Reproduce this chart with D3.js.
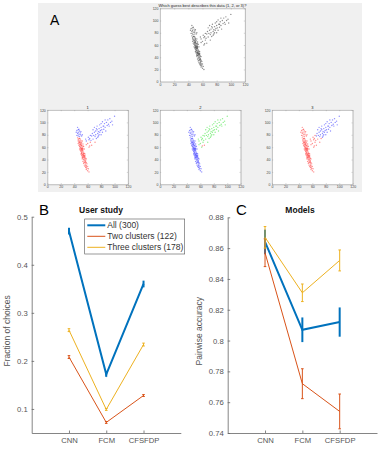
<!DOCTYPE html>
<html>
<head>
<meta charset="utf-8">
<script src="https://cdn.jsdelivr.net/npm/d3@7"></script>
<style>
    body { margin: 0; background: #fff; }
    text { font-family: "Liberation Sans", Arial, sans-serif; }
</style>
</head>
<body>
<div id="chart"></div>
<script>
// ---- Panel A: scatter data (same points, three guesses) ----
// each group: [x, y] points
const denseTop = [[45,92],[47,89],[44,87],[48,86],[46,84],[50,85],[45,82],[47,81],[49,80],[44,79],[46,78],[48,77],[51,78],[43,84],[49,83],[46,88],[52,80]];
const denseLow = [[45,75],[47,74],[49,73],[46,72],[50,71],[48,70],[52,70],[47,68],[49,67],[51,67],[46,66],[48,65],[50,64],[53,65],[47,63],[49,62],[51,62],[48,61],[50,60],[52,60],[54,61],[49,59],[51,58],[53,58],[48,57],[50,56],[52,56],[55,57],[49,55],[51,54],[53,54],[50,53],[52,52],[54,52],[51,51],[53,50],[55,50],[50,49],[52,48],[54,48],[56,49],[51,47],[53,46],[55,46],[52,45],[54,44],[56,44],[53,43],[55,42],[57,42],[52,41],[54,40],[56,40],[58,41],[55,38],[57,38],[53,37],[56,36],[58,35],[54,34],[57,33],[59,33],[55,31],[58,30],[56,29],[60,29],[57,27],[59,26],[58,24],[61,25],[60,22],[62,20],
    [50,66],[51,63],[50,58],[52,54],[51,50],[53,48],[55,44],[54,46],[52,58],[49,64],[48,68],[50,69],[53,56],[54,50],[56,46],[57,36],[55,35],[58,28],[46,70],[48,74],[53,62],[51,56],[52,43],[57,31]];
const sparseJunction = [[60,66],[64,68],[71,68],[62,60],[58,64]];
const oddPoints = [[63,62],[66,63]];
const sparseMid = [[58,70],[62,72],[61,76],[63,74],[65,71],[68,73],[73,74],[57,73],[64,79]];
const sparseUpper = [[66,78],[67,82],[69,79],[70,84],[71,77],[72,86],[72,80],[74,88],[75,82],[76,85],[76,78],[77,90],[78,84],[79,87],[80,80],[80,92],[81,88],[82,84],[83,94],[84,89],[85,98],[86,92],[87,86],[88,100],[89,95],[90,104],[91,97],[93,106],[94,100],[96,102],[100,110],[97,96],[70,92],[68,88],[74,94],[78,96],[82,101],[86,104],[73,90],[77,80],[84,94],[80,98],[75,76],[92,94]];

// cluster label of each group under guess 1, 2, 3
const pointGroups = [
    { pts: denseTop, guess: ["b", "b", "r"] },
    { pts: denseLow, guess: ["r", "b", "r"] },
    { pts: sparseJunction, guess: ["r", "g", "r"] },
    { pts: oddPoints, guess: ["r", "r", "r"] },
    { pts: sparseMid, guess: ["b", "g", "r"] },
    { pts: sparseUpper, guess: ["b", "g", "b"] }
];
const scatterTicks = [0, 20, 40, 60, 80, 100, 120];

// ---- Panels B and C ----
const methods = ["CNN", "FCM", "CFSFDP"];
const seriesNames = ["All (300)", "Two clusters (122)", "Three clusters (178)"];

const userAll = [0.470, 0.172, 0.360];
const userAllErr = [0.007, 0.005, 0.007];
const userTwo = [0.208, 0.072, 0.128];
const userTwoErr = [0.003, 0.002, 0.002];
const userThree = [0.264, 0.099, 0.234];
const userThreeErr = [0.003, 0.002, 0.003];

const modelAll = [0.864, 0.807, 0.812];
const modelAllErr = [0.008, 0.008, 0.0095];
const modelTwo = [0.857, 0.772, 0.754];
const modelTwoErr = [0.009, 0.0097, 0.0113];
const modelThree = [0.867, 0.831, 0.852];
const modelThreeErr = [0.007, 0.0057, 0.0068];

const userTicks = [0.1, 0.2, 0.3, 0.4, 0.5];
const modelTicks = [0.74, 0.76, 0.78, 0.8, 0.82, 0.84, 0.86, 0.88];

const seriesColors = ["#0072BD", "#D95319", "#EDB120"];
const seriesWidths = [2, 1, 1];
const capWidths = [0, 1.3, 1.3];
const clusterColors = { r: "#ff0000", b: "#0000ff", g: "#00dd00", k: "#000000" };

const svg = d3.select("#chart").append("svg")
    .attr("width", 381)
    .attr("height", 449);

// Panel A gray figure background
svg.append("rect")
    .attr("x", 38).attr("y", 3)
    .attr("width", 324).attr("height", 189)
    .attr("fill", "#f0f0f0");

svg.append("text")
    .attr("x", 50).attr("y", 25)
    .attr("font-size", 14)
    .text("A");

function drawScatter(box, title, guessIdx) {
    let g = svg.append("g");

    let x = d3.scaleLinear().domain([0, 120]).range([box.x0, box.x1]);
    let y = d3.scaleLinear().domain([0, 120]).range([box.y1, box.y0]);

    g.append("rect")
        .attr("x", box.x0).attr("y", box.y0)
        .attr("width", box.x1 - box.x0).attr("height", box.y1 - box.y0)
        .attr("fill", "#fff")
        .attr("stroke", "#d0d0d0")
        .attr("stroke-width", 0.4);

    pointGroups.forEach(grp => {
        let c = guessIdx < 0 ? clusterColors.k : clusterColors[grp.guess[guessIdx]];
        g.selectAll(null)
            .data(grp.pts)
            .enter()
            .append("circle")
            .attr("cx", d => x(d[0]))
            .attr("cy", d => y(d[1]))
            .attr("r", 0.7)
            .attr("fill", c)
            .attr("fill-opacity", 0.45);
    });

    // axes, ticks inside
    let xAxis = d3.axisBottom(x).tickValues(scatterTicks).tickSizeInner(-1.2).tickSizeOuter(0).tickPadding(1.5);
    let yAxis = d3.axisLeft(y).tickValues(scatterTicks).tickSizeInner(-1.2).tickSizeOuter(0).tickPadding(1.5);

    g.append("g").attr("transform", `translate(0,${box.y1})`).call(xAxis);
    g.append("g").attr("transform", `translate(${box.x0},0)`).call(yAxis);
    g.append("g").attr("transform", `translate(${box.x1},0)`)
        .call(d3.axisRight(y).tickValues(scatterTicks).tickSizeInner(-1.2).tickSizeOuter(0).tickFormat(""));
    g.append("g").attr("transform", `translate(0,${box.y0})`)
        .call(d3.axisTop(x).tickValues(scatterTicks).tickSizeInner(-1.2).tickSizeOuter(0).tickFormat(""));

    g.selectAll(".domain").attr("stroke", "#999").attr("stroke-width", 0.5);
    g.selectAll(".tick line").attr("stroke", "#999").attr("stroke-width", 0.4);
    g.selectAll(".tick text").attr("font-size", 3.5).attr("fill", "#444");

    g.append("text")
        .attr("x", (box.x0 + box.x1) / 2)
        .attr("y", box.y0 - 1.5)
        .attr("text-anchor", "middle")
        .attr("font-size", 4)
        .attr("fill", "#222")
        .text(title);
}

drawScatter({ x0: 160, x1: 245, y0: 8.3, y1: 81.7 }, "Which guess best describes this data (1, 2, or 3)?", -1);
drawScatter({ x0: 47.3, x1: 128, y0: 110, y1: 184.3 }, "1", 0);
drawScatter({ x0: 160, x1: 240.7, y0: 110, y1: 184.3 }, "2", 1);
drawScatter({ x0: 272, x1: 352.7, y0: 110, y1: 184.3 }, "3", 2);

function drawLinePanel(cfg) {
    let g = svg.append("g");

    let x = d3.scalePoint().domain(methods).range([cfg.x0, cfg.x1]).padding(1);
    let y = d3.scaleLinear().domain(cfg.yDomain).range([cfg.y1, cfg.y0]);

    let fmt = d => String(+d.toFixed(2));

    g.append("g")
        .attr("transform", `translate(${cfg.x0},0)`)
        .call(d3.axisLeft(y).tickValues(cfg.ticks).tickFormat(fmt).tickSizeInner(-2.5).tickSizeOuter(0).tickPadding(4));
    g.append("g")
        .attr("transform", `translate(0,${cfg.y1})`)
        .call(d3.axisBottom(x).tickSizeInner(-2.5).tickSizeOuter(0).tickPadding(5));

    g.selectAll(".domain").attr("stroke", "#666").attr("stroke-width", 0.8);
    g.selectAll(".tick line").attr("stroke", "#666").attr("stroke-width", 0.8);
    g.selectAll(".tick text").attr("font-size", 7.7).attr("fill", "#555");

    // y label
    g.append("text")
        .attr("transform", `translate(${cfg.labelX},${(cfg.y0 + cfg.y1) / 2 + 6}) rotate(-90)`)
        .attr("text-anchor", "middle")
        .attr("font-size", 8.5)
        .attr("fill", "#555")
        .text(cfg.ylabel);

    // title
    g.append("text")
        .attr("x", cfg.titleX)
        .attr("y", 212.5)
        .attr("text-anchor", "middle")
        .attr("font-size", 8.5)
        .attr("font-weight", "bold")
        .attr("fill", "#111")
        .text(cfg.title);

    // panel letter
    g.append("text")
        .attr("x", cfg.letterX)
        .attr("y", 215)
        .attr("font-size", 15)
        .text(cfg.letter);

    let line = d3.line()
        .x((d, i) => x(methods[i]))
        .y(d => y(d));

    cfg.series.forEach((s, k) => {
        g.append("path")
            .datum(s.values)
            .attr("d", line)
            .attr("fill", "none")
            .attr("stroke", seriesColors[k])
            .attr("stroke-width", seriesWidths[k]);

        // error bars
        let cw = capWidths[k];
        let eb = g.selectAll(null)
            .data(s.values.map((v, i) => ({ m: methods[i], v: v, e: s.err[i] })))
            .enter()
            .append("g")
            .attr("stroke", seriesColors[k])
            .attr("stroke-width", seriesWidths[k]);
        eb.append("line")
            .attr("x1", d => x(d.m)).attr("x2", d => x(d.m))
            .attr("y1", d => y(d.v - d.e)).attr("y2", d => y(d.v + d.e));
        if (cw > 0) {
            eb.append("line")
                .attr("x1", d => x(d.m) - cw).attr("x2", d => x(d.m) + cw)
                .attr("y1", d => y(d.v - d.e)).attr("y2", d => y(d.v - d.e));
            eb.append("line")
                .attr("x1", d => x(d.m) - cw).attr("x2", d => x(d.m) + cw)
                .attr("y1", d => y(d.v + d.e)).attr("y2", d => y(d.v + d.e));
        }
    });

    return g;
}

drawLinePanel({
    x0: 31.7, x1: 180.8, y0: 216.7, y1: 433,
    yDomain: [0.05, 0.5], ticks: userTicks,
    ylabel: "Fraction of choices", labelX: 10,
    title: "User study", titleX: 101, letter: "B", letterX: 39,
    series: [
        { values: userAll, err: userAllErr },
        { values: userTwo, err: userTwoErr },
        { values: userThree, err: userThreeErr }
    ]
});

drawLinePanel({
    x0: 227.7, x1: 377, y0: 217.3, y1: 433,
    yDomain: [0.74, 0.88], ticks: modelTicks,
    ylabel: "Pairwise accuracy", labelX: 202,
    title: "Models", titleX: 300, letter: "C", letterX: 236,
    series: [
        { values: modelAll, err: modelAllErr },
        { values: modelTwo, err: modelTwoErr },
        { values: modelThree, err: modelThreeErr }
    ]
});

// Legend for panel B
let legend = svg.append("g");
legend.append("rect")
    .attr("x", 84.7).attr("y", 219)
    .attr("width", 100).attr("height", 35)
    .attr("fill", "#fff")
    .attr("stroke", "#555")
    .attr("stroke-width", 0.6);

let rows = legend.selectAll(".legend-row")
    .data(seriesNames)
    .enter()
    .append("g")
    .attr("class", "legend-row")
    .attr("transform", (d, i) => `translate(0,${225.3 + i * 11})`);

rows.append("line")
    .attr("x1", 87.3).attr("x2", 105.3)
    .attr("stroke", (d, i) => seriesColors[i])
    .attr("stroke-width", (d, i) => seriesWidths[i]);

rows.append("text")
    .attr("x", 107.3)
    .attr("dy", "0.35em")
    .attr("font-size", 8.5)
    .attr("fill", "#333")
    .text(d => d);
</script>
</body>
</html>
